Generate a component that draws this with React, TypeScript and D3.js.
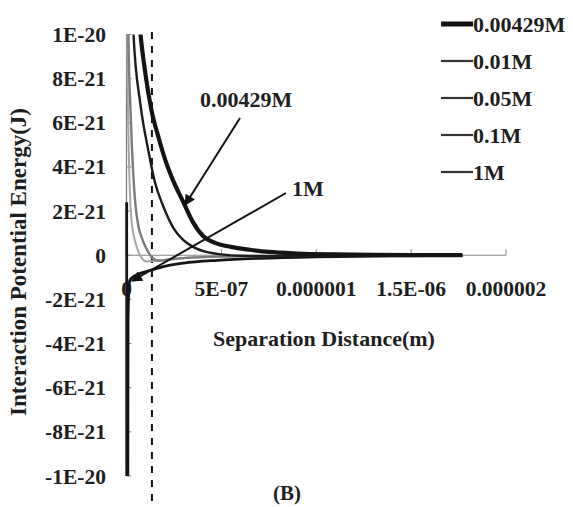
import * as d3 from 'd3';
import React from 'react';

// series (NaCl concentration), distances in nm, energies in units of 1E-21 J
const seriesNames = ["0.00429M", "0.01M", "0.05M", "0.1M", "1M"];

const dist00429 = [40, 74, 100, 131, 170, 205, 250, 300, 350, 405, 470, 550, 650, 750, 900, 1100, 1300, 1500, 1770];
const energy00429 = [14, 10, 8.2, 6.6, 5.3, 4.3, 3.3, 2.4, 1.5, 0.86, 0.55, 0.38, 0.25, 0.15, 0.08, 0.04, 0.02, 0.01, 0.005];

const dist001 = [20, 37, 74, 116, 150, 190, 250, 300, 350, 420, 500, 600, 800, 1000, 1400, 1770];
const energy001 = [14, 10, 6.8, 4.7, 3.3, 2.3, 1.2, 0.68, 0.38, 0.15, 0.04, -0.02, -0.04, -0.03, -0.01, 0];

const dist005 = [5, 10, 21, 35, 47, 63, 80, 100, 120, 140, 170, 220, 300, 500, 800, 1200, 1770];
const energy005 = [16, 10, 6.6, 3.8, 2.3, 1.3, 0.8, 0.38, 0.07, -0.15, -0.25, -0.2, -0.13, -0.06, -0.03, -0.01, 0];

const dist01 = [2, 4, 8, 14, 21, 30, 42, 55, 68, 85, 105, 150, 220, 300, 500, 800, 1200, 1770];
const energy01 = [16, 10, 6.6, 4.0, 2.2, 1.3, 0.75, 0.35, 0.05, -0.18, -0.28, -0.26, -0.18, -0.12, -0.06, -0.03, -0.01, 0];

const dist1 = [1, 3, 8, 14, 20, 40, 80, 126, 200, 300, 480, 700, 1000, 1400, 1770];
const energy1 = [2.4, -40, -3, -1.3, -1.1, -0.95, -0.8, -0.68, -0.5, -0.36, -0.23, -0.14, -0.07, -0.03, -0.01];

const xTickValues = [0, 500, 1000, 1500, 2000];
const xTickLabels = ["0", "5E-07", "0.000001", "1.5E-06", "0.000002"];
const yTickValues = [10, 8, 6, 4, 2, 0, -2, -4, -6, -8, -10];
const yTickLabels = ["1E-20", "8E-21", "6E-21", "4E-21", "2E-21", "0", "-2E-21", "-4E-21", "-6E-21", "-8E-21", "-1E-20"];

const dashedDistance = 134; // nm, vertical dashed reference

const seriesDist = [dist00429, dist001, dist005, dist01, dist1];
const seriesEnergy = [energy00429, energy001, energy005, energy01, energy1];
const seriesColor = ["#141414", "#1c1c1c", "#7c7c7c", "#a6a6a6", "#141414"];
const seriesWidth = [4.2, 2.4, 2.4, 2, 2.8];
const legendWidth = [5, 2.2, 2.2, 2.2, 2.2];

const font = "'Liberation Serif', 'Times New Roman', serif";
const ink = "#1e1e1e";

const App = () => {
  const x = d3.scaleLinear().domain([0, 2000]).range([126.5, 506]);
  const y = d3.scaleLinear().domain([-10, 10]).range([476, 34.5]);

  const line = d3.line<[number, number]>()
    .x(d => x(d[0]))
    .y(d => y(d[1]))
    .curve(d3.curveMonotoneX);

  const x0 = x(0);
  const y0 = y(0);

  return (
    <svg width={573} height={507} style={{ position: 'absolute', left: 0, top: 0, background: '#fff' }}
      fontFamily={font} fontWeight="bold" fill={ink}>
      <defs>
        <clipPath id="plot">
          <rect x={x0 - 3} y={y(10)} width={400} height={y(-10) - y(10)} />
        </clipPath>
        <marker id="head" viewBox="0 0 10 10" refX="9" refY="5" markerWidth="6.5" markerHeight="5.5"
          markerUnits="strokeWidth" orient="auto">
          <path d="M0,0 L10,5 L0,10 z" fill="#111" />
        </marker>
      </defs>

      {/* axes */}
      <line x1={x0} x2={x(2000)} y1={y0} y2={y0} stroke="#888" strokeWidth={1} />
      {xTickValues.slice(1).map(v => (
        <line key={v} x1={x(v)} x2={x(v)} y1={y0} y2={y0 - 6} stroke="#888" />
      ))}
      <line x1={x0} x2={x0} y1={y(10)} y2={y(-10)} stroke="#777" strokeWidth={1.2} />
      {yTickValues.map(v => (
        <line key={v} x1={x0} x2={x0 + 5} y1={y(v)} y2={y(v)} stroke="#888" />
      ))}

      {/* tick labels */}
      {yTickValues.map((v, i) => (
        <text key={v} x={106} y={y(v)} dy="0.35em" textAnchor="end" fontSize={21.5}>{yTickLabels[i]}</text>
      ))}
      {xTickValues.map((v, i) => (
        <text key={v} x={x(v)} y={296} textAnchor="middle" fontSize={21.5}>{xTickLabels[i]}</text>
      ))}

      {/* dashed reference */}
      <line x1={x(dashedDistance)} x2={x(dashedDistance)} y1={32} y2={507}
        stroke="#111" strokeWidth={2} strokeDasharray="7,7" />

      {/* curves */}
      <g clipPath="url(#plot)" fill="none">
        {seriesNames.map((name, i) => (
          <path key={name}
            d={line(seriesDist[i].map((d, j) => [d, seriesEnergy[i][j]] as [number, number])) || ''}
            stroke={seriesColor[i]} strokeWidth={seriesWidth[i]} strokeLinejoin="round" />
        )).reverse()}
      </g>

      {/* annotations */}
      <text x={200} y={107} fontSize={22}>0.00429M</text>
      <line x1={240} y1={118} x2={185} y2={205} stroke="#111" strokeWidth={2} markerEnd="url(#head)" />
      <text x={292} y={196} fontSize={22}>1M</text>
      <line x1={286} y1={193} x2={132} y2={281} stroke="#111" strokeWidth={2} markerEnd="url(#head)" />

      {/* axis titles */}
      <text x={324} y={346} textAnchor="middle" fontSize={22}>Separation Distance(m)</text>
      <text transform="translate(26,262) rotate(-90)" textAnchor="middle" fontSize={23}>Interaction Potential Energy(J)</text>
      <text x={287} y={500} textAnchor="middle" fontSize={21}>(B)</text>

      {/* legend */}
      {seriesNames.map((name, i) => {
        const ly = 24 + i * 37;
        return (
          <g key={name}>
            <line x1={441} x2={473} y1={ly} y2={ly} stroke={i === 0 ? "#111" : "#333"} strokeWidth={legendWidth[i]} />
            <text x={473} y={ly} dy="0.35em" fontSize={22}>{name}</text>
          </g>
        );
      })}
    </svg>
  );
};

export default App;
